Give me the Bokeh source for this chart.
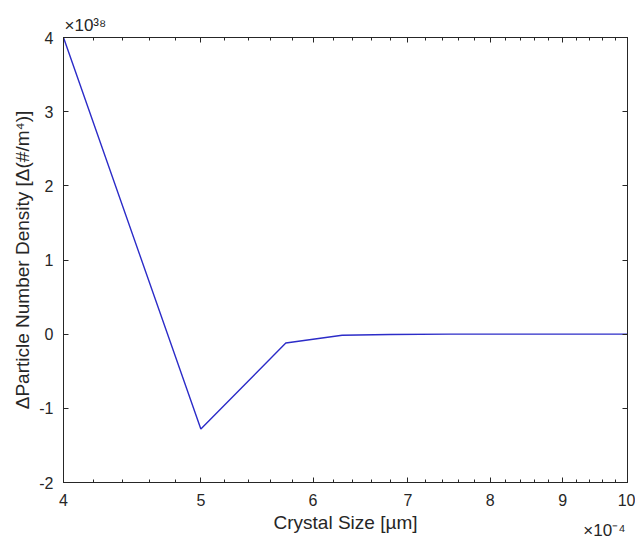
from bokeh.plotting import figure
from bokeh.models import Range1d, FixedTicker, LinearAxis, LogAxis, Title
from bokeh.embed import file_html
from bokeh.resources import INLINE

# Data (x in units of 1e-4, y in units of 1e38)
crystal_size = [4.0, 5.0, 5.74, 6.29, 6.8, 7.5, 8.5, 10.0]
delta_density = [4.0, -1.28, -0.12, -0.015, -0.004, 0.0, 0.0, 0.0]

x_ticks = [4, 5, 6, 7, 8, 9, 10]
x_tick_labels = ["4", "5", "6", "7", "8", "9", "10"]
x_minor = [4 + 0.2 * i for i in range(31)]
y_ticks = [-2, -1, 0, 1, 2, 3, 4]
y_tick_labels = ["-2", "-1", "0", "1", "2", "3", "4"]
x_exponent = "×10⁻⁴"
y_exponent = "×10³⁸"

FONT = "Liberation Sans"
DARK = "#262626"

p = figure(frame_width=564, frame_height=445, x_axis_type="log",
           x_range=Range1d(4, 10), y_range=Range1d(-2, 4),
           output_backend="svg", toolbar_location=None,
           min_border_left=63, min_border_right=8,
           min_border_top=37, min_border_bottom=56)

p.line(crystal_size, delta_density, line_color="#2c2cc8", line_width=1.4)

p.xgrid.grid_line_color = None
p.ygrid.grid_line_color = None
p.outline_line_color = DARK
p.outline_line_width = 1
p.background_fill_color = "white"
p.border_fill_color = "white"

xt = FixedTicker(ticks=x_ticks, minor_ticks=x_minor)
yt = FixedTicker(ticks=y_ticks, minor_ticks=[])

def style(ax):
    ax.axis_line_color = DARK
    ax.major_tick_line_color = DARK
    ax.minor_tick_line_color = DARK
    ax.major_tick_in = 5
    ax.major_tick_out = 0
    ax.minor_tick_in = 3
    ax.minor_tick_out = 0
    ax.major_label_text_font = FONT
    ax.major_label_text_color = DARK
    ax.major_label_text_font_size = "16px"
    ax.axis_label_text_font = FONT
    ax.axis_label_text_color = DARK
    ax.axis_label_text_font_style = "normal"
    ax.axis_label_text_font_size = "19px"

xa = p.xaxis[0]
xa.ticker = xt
xa.major_label_overrides = {t: l for t, l in zip(x_ticks, x_tick_labels)}
style(xa)
xa.axis_label = "Crystal Size [µm]"
xa.major_label_standoff = 11
xa.axis_label_standoff = 3

ya = p.yaxis[0]
ya.ticker = yt
ya.major_label_overrides = {t: l for t, l in zip(y_ticks, y_tick_labels)}
style(ya)
ya.axis_label = "ΔParticle Number Density [Δ(#/m⁴)]"
ya.major_label_standoff = 10
ya.axis_label_standoff = 3

top = LogAxis(ticker=xt)
style(top)
top.major_label_overrides = {t: "" for t in x_ticks}
top.major_label_standoff = 0
p.add_layout(top, "above")
right = LinearAxis(ticker=yt)
style(right)
right.major_label_overrides = {t: "" for t in y_ticks}
right.major_label_standoff = 0
p.add_layout(right, "right")

# exponent labels as titles in the side panels
p.add_layout(Title(text=y_exponent, align="left", offset=1, standoff=6,
                   text_font=FONT, text_font_size="17px", text_color=DARK,
                   text_font_style="normal"), "above")
p.add_layout(Title(text=x_exponent, align="right", offset=2, standoff=-30,
                   vertical_align="top",
                   text_font=FONT, text_font_size="17px", text_color=DARK,
                   text_font_style="normal"), "below")

open("out.html", "w").write(file_html(p, INLINE))
